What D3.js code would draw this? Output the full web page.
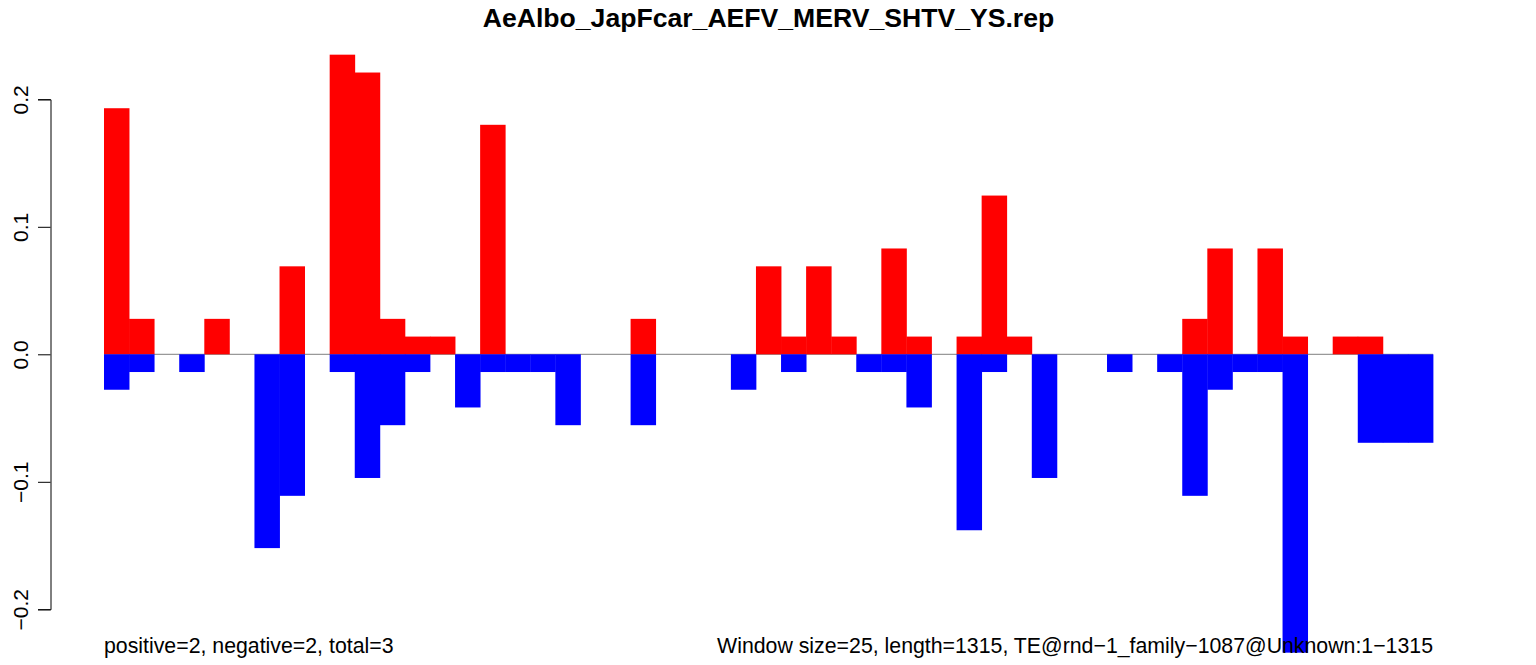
<!DOCTYPE html>
<html>
<head>
<meta charset="utf-8">
<script src="https://cdn.jsdelivr.net/npm/d3@7"></script>
<style>
  html, body { margin: 0; padding: 0; background: #ffffff; }
  svg { display: block; }
  text { font-family: "Liberation Sans", Arial, Helvetica, sans-serif; }
</style>
</head>
<body>
<svg id="chart" width="1536" height="665"></svg>
<script>
// ---- data ----
const title = "AeAlbo_JapFcar_AEFV_MERV_SHTV_YS.rep";
const leftNote = "positive=2, negative=2, total=3";
const rightNote = "Window size=25, length=1315, TE@rnd\u22121_family\u22121087@Unknown:1\u22121315";

// window start positions (window size 25)
const windows = [0,25,50,75,100,125,150,175,200,225,250,275,300,325,350,375,400,425,450,475,
  500,525,550,575,600,625,650,675,700,725,750,775,800,825,850,875,900,925,950,975,
  1000,1025,1050,1075,1100,1125,1150,1175,1200,1225,1250,1275,1300];

// positive strand values (red)
const positive = [0.193,0.0278,0,0,0.0278,0,0,0.0690,0,0.235,
  0.221,0.0278,0.0139,0.0139,0,0.180,0,0,0,0,
  0,0.0278,0,0,0,0,0.0690,0.0139,0.0690,0.0139,
  0,0.0830,0.0139,0,0.0139,0.1245,0.0139,0,0,0,
  0,0,0,0.0278,0.0830,0,0.0830,0.0139,0,0.0139,
  0.0139,0,0];

// negative strand values (blue)
const negative = [-0.0278,-0.0139,0,-0.0139,0,0,-0.152,-0.111,0,-0.0139,
  -0.097,-0.0556,-0.0139,0,-0.0417,-0.0139,-0.0139,-0.0139,-0.0556,0,
  0,-0.0556,0,0,0,-0.0278,0,-0.0139,0,0,
  -0.0139,-0.0139,-0.0417,0,-0.138,-0.0139,0,-0.097,0,0,
  -0.0139,0,-0.0139,-0.111,-0.0278,-0.0139,-0.0139,-0.234,0,0,
  -0.0694,-0.0694,-0.0694];

const yTicks = [-0.2, -0.1, 0.0, 0.1, 0.2];

// ---- drawing ----
const svg = d3.select("#chart");

const x = d3.scaleBand().domain(windows).range([104, 1433]).padding(0);
const y = d3.scaleLinear().domain([-0.2, 0.2]).range([609.3, 99.3]);

// zero line
svg.append("line")
  .attr("x1", 104).attr("x2", 1433)
  .attr("y1", y(0)).attr("y2", y(0))
  .attr("stroke", "#999999").attr("stroke-width", 1.3);

// positive bars
svg.append("g").selectAll("rect")
  .data(windows.map((w, i) => ({w, v: positive[i]})).filter(d => d.v > 0))
  .join("rect")
  .attr("x", d => x(d.w))
  .attr("width", x.bandwidth() + 0.4)
  .attr("y", d => y(d.v))
  .attr("height", d => y(0) - y(d.v))
  .attr("fill", "#ff0000");

// negative bars
svg.append("g").selectAll("rect")
  .data(windows.map((w, i) => ({w, v: negative[i]})).filter(d => d.v < 0))
  .join("rect")
  .attr("x", d => x(d.w))
  .attr("width", x.bandwidth() + 0.4)
  .attr("y", y(0))
  .attr("height", d => y(d.v) - y(0))
  .attr("fill", "#0000ff");

// y axis
const fmt = d => (d < 0 ? "\u2212" : "") + Math.abs(d).toFixed(1);
const axis = svg.append("g")
  .attr("transform", "translate(50.5,0)")
  .call(d3.axisLeft(y).tickValues(yTicks).tickFormat(fmt).tickSizeOuter(0).tickSize(12.5));
axis.select(".domain").attr("stroke", "#000").attr("stroke-width", 1);
axis.selectAll(".tick line").attr("stroke", "#000").attr("stroke-width", 1);
axis.selectAll(".tick text")
  .attr("transform", "rotate(-90)")
  .attr("x", 0)
  .attr("y", -22.5)
  .attr("dy", 0)
  .attr("text-anchor", "middle")
  .attr("fill", "#000")
  .style("font-size", "21px")
  .style("font-family", "'Liberation Sans', Arial, sans-serif");

// title
svg.append("text")
  .attr("x", 768.5).attr("y", 26.7)
  .attr("text-anchor", "middle")
  .style("font-size", "26.6px")
  .style("font-weight", "bold")
  .text(title);

// bottom notes
svg.append("text")
  .attr("x", 104).attr("y", 653.3)
  .attr("text-anchor", "start")
  .style("font-size", "21.3px")
  .text(leftNote);

svg.append("text")
  .attr("x", 1433).attr("y", 653.3)
  .attr("text-anchor", "end")
  .style("font-size", "21.3px")
  .text(rightNote);
</script>
</body>
</html>
